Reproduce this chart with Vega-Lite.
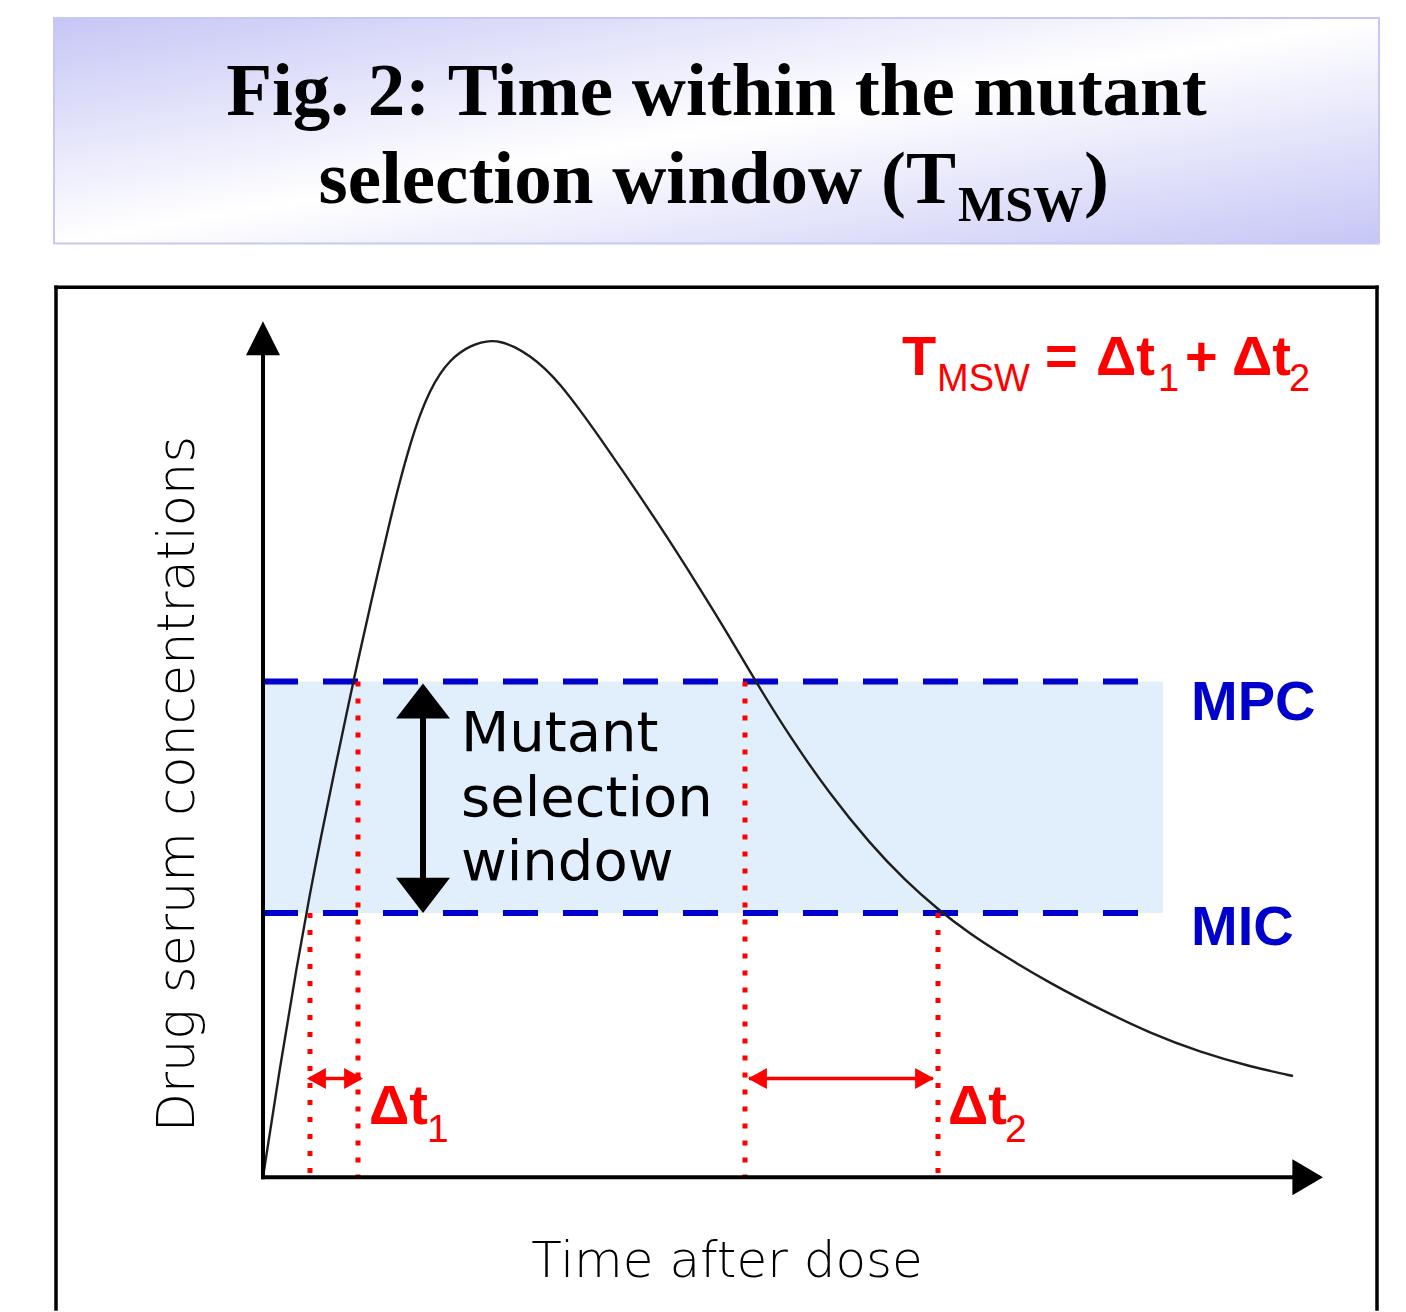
{
  "$schema": "https://vega.github.io/schema/vega-lite/v6.json",
  "width": 1406,
  "height": 1312,
  "padding": 0,
  "autosize": {"type": "fit", "contains": "padding"},
  "background": "white",
  "config": {"view": {"stroke": null}},
  "datasets": {
    "title_box": [{"t": -2.09, "t2": 11.16, "c": 11.62, "c2": 9.36}],
    "title1": [{"t": 4.535, "c": 10.65, "label": "Fig. 2: Time within the mutant"}],
    "title2a": [{"t": 6.93, "c": 9.77, "label": "selection window (T"}],
    "title2b": [{"t": 8.21, "c": 9.77, "label": ")"}],
    "title2sub": [{"t": 6.95, "c": 9.58, "label": "MSW"}],
    "frame": [
      {"t": -2.07, "t2": 11.14, "c": 8.92, "c2": 8.92},
      {"t": -2.07, "t2": -2.07, "c": 8.92, "c2": -1.32},
      {"t": 11.14, "t2": 11.14, "c": 8.92, "c2": -1.32}
    ],
    "band": [{"t": 0, "t2": 9.0, "c": 4.97, "c2": 2.65}],
    "thresholds": [
      {"name": "MPC", "t": 0, "t2": 9.0, "c": 4.97},
      {"name": "MIC", "t": 0, "t2": 9.0, "c": 2.65}
    ],
    "dotted": [
      {"t": 0.47, "c": 2.65, "c2": 0},
      {"t": 0.95, "c": 4.97, "c2": 0},
      {"t": 4.82, "c": 4.97, "c2": 0},
      {"t": 6.75, "c": 2.65, "c2": 0}
    ],
    "curve": [
      {"t": 0, "c": 0}, {"t": 0.17, "c": 1.11}, {"t": 0.34, "c": 2.13}, {"t": 0.47, "c": 2.847},
      {"t": 0.57, "c": 3.363}, {"t": 0.72, "c": 4.1}, {"t": 0.87, "c": 4.812}, {"t": 0.94, "c": 5.135},
      {"t": 1.07, "c": 5.72}, {"t": 1.27, "c": 6.583}, {"t": 1.37, "c": 6.983}, {"t": 1.47, "c": 7.343},
      {"t": 1.57, "c": 7.648}, {"t": 1.67, "c": 7.883}, {"t": 1.77, "c": 8.058}, {"t": 1.87, "c": 8.183},
      {"t": 1.97, "c": 8.269}, {"t": 2.07, "c": 8.328}, {"t": 2.18, "c": 8.37}, {"t": 2.29, "c": 8.385},
      {"t": 2.37, "c": 8.377}, {"t": 2.52, "c": 8.325}, {"t": 2.67, "c": 8.23}, {"t": 2.82, "c": 8.11},
      {"t": 2.97, "c": 7.95}, {"t": 3.17, "c": 7.69}, {"t": 3.37, "c": 7.41}, {"t": 3.57, "c": 7.12},
      {"t": 3.97, "c": 6.53}, {"t": 4.37, "c": 5.9}, {"t": 4.67, "c": 5.41}, {"t": 4.94, "c": 4.947},
      {"t": 5.27, "c": 4.413}, {"t": 5.67, "c": 3.838}, {"t": 6.07, "c": 3.343}, {"t": 6.42, "c": 2.976},
      {"t": 6.75, "c": 2.684}, {"t": 7.07, "c": 2.44}, {"t": 7.37, "c": 2.245}, {"t": 7.87, "c": 1.945},
      {"t": 8.37, "c": 1.685}, {"t": 8.87, "c": 1.445}, {"t": 9.37, "c": 1.255}, {"t": 9.87, "c": 1.11},
      {"t": 10.3, "c": 1.015}
    ],
    "axes": [
      {"t": 0, "t2": 0, "c": 0, "c2": 8.3},
      {"t": 0, "t2": 10.35, "c": 0, "c2": 0}
    ],
    "ytip": [{"t": 0, "c": 8.58}],
    "xtip": [{"t": 10.6, "c": 0}],
    "window_shaft": [{"t": 1.6, "c": 4.62, "c2": 2.98}],
    "window_up": [{"t": 1.6, "c": 4.95}],
    "window_down": [{"t": 1.6, "c": 2.65}],
    "dt_shaft": [
      {"t": 0.46, "t2": 0.98, "c": 0.99},
      {"t": 4.86, "t2": 6.7, "c": 0.99}
    ],
    "dt_left": [{"t": 0.44, "c": 0.99}, {"t": 4.85, "c": 0.99}],
    "dt_right": [{"t": 1.0, "c": 0.99}, {"t": 6.71, "c": 0.99}],
    "red_bold": [
      {"t": 6.39, "c": 8.04, "label": "T"},
      {"t": 7.82, "c": 8.04, "label": "="},
      {"t": 8.33, "c": 8.04, "label": "Δt"},
      {"t": 9.22, "c": 8.04, "label": "+"},
      {"t": 9.69, "c": 8.04, "label": "Δt"},
      {"t": 1.06, "c": 0.53, "label": "Δt"},
      {"t": 6.85, "c": 0.53, "label": "Δt"}
    ],
    "red_sub_top": [
      {"t": 6.74, "c": 7.88, "label": "MSW"},
      {"t": 8.95, "c": 7.88, "label": "1"},
      {"t": 10.26, "c": 7.88, "label": "2"}
    ],
    "red_sub_bottom": [
      {"t": 1.64, "c": 0.35, "label": "1"},
      {"t": 7.42, "c": 0.35, "label": "2"}
    ],
    "blue_labels": [
      {"t": 9.28, "c": 4.58, "label": "MPC"},
      {"t": 9.28, "c": 2.33, "label": "MIC"}
    ],
    "window_text": [
      {"t": 1.98, "c": 4.27, "label": "Mutant"},
      {"t": 1.98, "c": 3.62, "label": "selection"},
      {"t": 1.98, "c": 2.98, "label": "window"}
    ],
    "ylabel": [{"t": -0.69, "c": 3.94, "label": "Drug serum concentrations"}],
    "xlabel": [{"t": 4.64, "c": -1.0, "label": "Time after dose"}]
  },
  "encoding": {
    "x": {"field": "t", "type": "quantitative", "scale": {"domain": [-2.63, 11.43], "nice": false, "zero": false}, "axis": null},
    "y": {"field": "c", "type": "quantitative", "scale": {"domain": [-1.32, 11.8], "nice": false, "zero": false}, "axis": null}
  },
  "layer": [
    {
      "data": {"name": "title_box"},
      "mark": {
        "type": "rect",
        "stroke": "#c8c8f2",
        "strokeWidth": 2,
        "fill": {"gradient": "linear", "x1": 0, "y1": 0, "x2": 1, "y2": 1,
          "stops": [{"offset": 0, "color": "#c6c6f6"}, {"offset": 0.5, "color": "#ffffff"}, {"offset": 1, "color": "#c6c6f6"}]}
      },
      "encoding": {"x2": {"field": "t2"}, "y2": {"field": "c2"}}
    },
    {
      "data": {"name": "title1"},
      "mark": {"type": "text", "font": "Liberation Serif", "fontWeight": "bold", "fontSize": 75, "align": "center", "baseline": "alphabetic", "color": "black"},
      "encoding": {"text": {"field": "label"}}
    },
    {
      "data": {"name": "title2a"},
      "mark": {"type": "text", "font": "Liberation Serif", "fontWeight": "bold", "fontSize": 75, "align": "right", "baseline": "alphabetic", "color": "black"},
      "encoding": {"text": {"field": "label"}}
    },
    {
      "data": {"name": "title2b"},
      "mark": {"type": "text", "font": "Liberation Serif", "fontWeight": "bold", "fontSize": 75, "align": "left", "baseline": "alphabetic", "color": "black"},
      "encoding": {"text": {"field": "label"}}
    },
    {
      "data": {"name": "title2sub"},
      "mark": {"type": "text", "font": "Liberation Serif", "fontWeight": "bold", "fontSize": 50, "align": "left", "baseline": "alphabetic", "color": "black"},
      "encoding": {"text": {"field": "label"}}
    },
    {
      "data": {"name": "frame"},
      "mark": {"type": "rule", "color": "black", "strokeWidth": 3.5, "strokeCap": "square"},
      "encoding": {"x2": {"field": "t2"}, "y2": {"field": "c2"}}
    },
    {
      "data": {"name": "band"},
      "mark": {"type": "rect", "fill": "#e1effd"},
      "encoding": {"x2": {"field": "t2"}, "y2": {"field": "c2"}}
    },
    {
      "data": {"name": "thresholds"},
      "mark": {"type": "rule", "color": "#0000cc", "strokeWidth": 6, "strokeDash": [35, 25]},
      "encoding": {"x2": {"field": "t2"}}
    },
    {
      "data": {"name": "dotted"},
      "mark": {"type": "rule", "color": "#ff0000", "strokeWidth": 5, "strokeDash": [5, 12]},
      "encoding": {"y2": {"field": "c2"}}
    },
    {
      "data": {"name": "curve"},
      "mark": {"type": "line", "color": "#1e1e1e", "strokeWidth": 2.4, "interpolate": "basis"}
    },
    {
      "data": {"name": "axes"},
      "mark": {"type": "rule", "color": "black", "strokeWidth": 4, "strokeCap": "square"},
      "encoding": {"x2": {"field": "t2"}, "y2": {"field": "c2"}}
    },
    {
      "data": {"name": "ytip"},
      "mark": {"type": "point", "shape": "M0,0L1,2L-1,2Z", "size": 1156, "filled": true, "color": "black", "opacity": 1}
    },
    {
      "data": {"name": "xtip"},
      "mark": {"type": "point", "shape": "M0,0L-1.7,-1L-1.7,1Z", "size": 1296, "filled": true, "color": "black", "opacity": 1}
    },
    {
      "data": {"name": "window_shaft"},
      "mark": {"type": "rule", "color": "black", "strokeWidth": 6},
      "encoding": {"y2": {"field": "c2"}}
    },
    {
      "data": {"name": "window_up"},
      "mark": {"type": "point", "shape": "M0,0L1,1.3L-1,1.3Z", "size": 2916, "filled": true, "color": "black", "opacity": 1}
    },
    {
      "data": {"name": "window_down"},
      "mark": {"type": "point", "shape": "M0,0L1,-1.3L-1,-1.3Z", "size": 2916, "filled": true, "color": "black", "opacity": 1}
    },
    {
      "data": {"name": "dt_shaft"},
      "mark": {"type": "rule", "color": "#ff0000", "strokeWidth": 3.5},
      "encoding": {"x2": {"field": "t2"}}
    },
    {
      "data": {"name": "dt_left"},
      "mark": {"type": "point", "shape": "M0,0L1.8,-1L1.8,1Z", "size": 441, "filled": true, "color": "#ff0000", "opacity": 1}
    },
    {
      "data": {"name": "dt_right"},
      "mark": {"type": "point", "shape": "M0,0L-1.8,-1L-1.8,1Z", "size": 441, "filled": true, "color": "#ff0000", "opacity": 1}
    },
    {
      "data": {"name": "red_bold"},
      "mark": {"type": "text", "font": "Liberation Sans", "fontWeight": "bold", "fontSize": 56, "align": "left", "baseline": "alphabetic", "color": "#ff0000"},
      "encoding": {"text": {"field": "label"}}
    },
    {
      "data": {"name": "red_sub_top"},
      "mark": {"type": "text", "font": "Liberation Sans", "fontSize": 38, "align": "left", "baseline": "alphabetic", "color": "#ff0000"},
      "encoding": {"text": {"field": "label"}}
    },
    {
      "data": {"name": "red_sub_bottom"},
      "mark": {"type": "text", "font": "Liberation Sans", "fontSize": 39, "align": "left", "baseline": "alphabetic", "color": "#ff0000"},
      "encoding": {"text": {"field": "label"}}
    },
    {
      "data": {"name": "blue_labels"},
      "mark": {"type": "text", "font": "Liberation Sans", "fontWeight": "bold", "fontSize": 56, "align": "left", "baseline": "alphabetic", "color": "#0000cc"},
      "encoding": {"text": {"field": "label"}}
    },
    {
      "data": {"name": "window_text"},
      "mark": {"type": "text", "font": "DejaVu Sans", "fontSize": 56, "align": "left", "baseline": "alphabetic", "color": "black"},
      "encoding": {"text": {"field": "label"}}
    },
    {
      "data": {"name": "ylabel"},
      "mark": {"type": "text", "font": "DejaVu Sans", "fontWeight": 300, "fontSize": 51, "angle": 270, "align": "center", "baseline": "alphabetic", "color": "black"},
      "encoding": {"text": {"field": "label"}}
    },
    {
      "data": {"name": "xlabel"},
      "mark": {"type": "text", "font": "DejaVu Sans", "fontWeight": 300, "fontSize": 50, "align": "center", "baseline": "alphabetic", "color": "black"},
      "encoding": {"text": {"field": "label"}}
    }
  ]
}
